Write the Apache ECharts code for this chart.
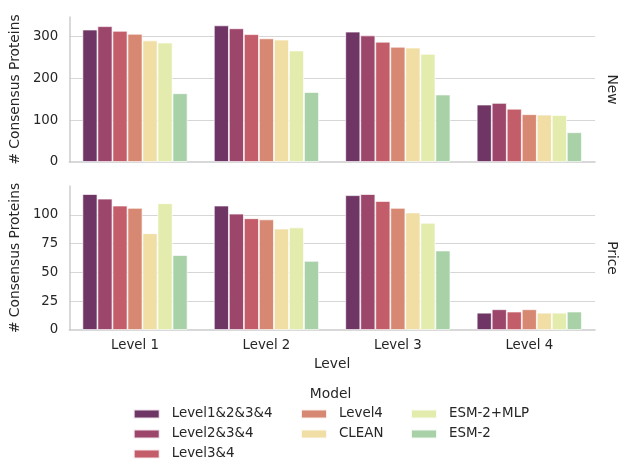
<!DOCTYPE html>
<html>
<head>
<meta charset="utf-8">
<script src="https://cdn.jsdelivr.net/npm/echarts@6/dist/echarts.min.js"></script>
<style>
  html, body { margin: 0; padding: 0; background: #fff; }
  #chart { width: 619px; height: 461px; }
</style>
</head>
<body>
<div id="chart"></div>
<script>
// Category axis and model names
const categories = ['Level 1', 'Level 2', 'Level 3', 'Level 4'];
const models = ['Level1&2&3&4', 'Level2&3&4', 'Level3&4', 'Level4', 'CLEAN', 'ESM-2+MLP', 'ESM-2'];
const modelColors = ['#6f3565', '#9c466b', '#c45d6a', '#d78873', '#f0dea4', '#e3ecad', '#a9d1a8'];

// "New" panel: consensus protein counts, one row per model, one column per level
const newCounts = [
  [316, 326, 311, 137],
  [324, 319, 302, 141],
  [313, 305, 287, 127],
  [306, 295, 275, 114],
  [290, 292, 273, 113],
  [285, 266, 258, 112],
  [164, 167, 161, 71]
];

// "Price" panel
const priceCounts = [
  [118, 108, 117, 15],
  [114, 101, 118, 18],
  [108, 97, 112, 16],
  [106, 96, 106, 18],
  [84, 88, 102, 15],
  [110, 89, 93, 15],
  [65, 60, 69, 16]
];

// Panel labels and y tick spacing
const panelNames = ['New', 'Price'];
const yIntervals = [100, 25];
const yMax = [346, 125];

const FONT = 'DejaVu Sans';
const TEXT = '#262626';
const GRID_LINE = '#d6d6d6';
const SPINE = '#cccccc';

const grids = [
  { left: 66.7, right: 24, top: 17, height: 145 },
  { left: 66.7, right: 24, top: 186, height: 144 }
];

const xAxes = grids.map((g, i) => ({
  type: 'category',
  gridIndex: i,
  data: categories,
  axisLine: { show: true, lineStyle: { color: SPINE, width: 1.5 } },
  axisTick: { show: false },
  axisLabel: {
    show: i === 1, color: TEXT, fontFamily: FONT, fontSize: 13.3, margin: 9
  },
  name: i === 1 ? 'Level' : '',
  nameLocation: 'middle',
  nameGap: 27,
  nameTextStyle: { color: TEXT, fontFamily: FONT, fontSize: 13.8 }
}));

const yAxes = grids.map((g, i) => ({
  type: 'value',
  gridIndex: i,
  min: 0,
  max: yMax[i],
  interval: yIntervals[i],
  axisLine: { show: true, lineStyle: { color: SPINE, width: 1.5 } },
  axisTick: { show: false },
  axisLabel: {
    color: TEXT, fontFamily: FONT, fontSize: 13.3, margin: 11, showMaxLabel: false
  },
  splitLine: {
    show: true, showMaxLine: false, showMinLine: false,
    lineStyle: { color: GRID_LINE, width: 1 }
  },
  name: '# Consensus Proteins',
  nameLocation: 'middle',
  nameGap: 38.5,
  nameTextStyle: { color: TEXT, fontFamily: FONT, fontSize: 13.8 }
}));

const panels = [newCounts, priceCounts];
const series = [];
panels.forEach((counts, p) => {
  models.forEach((m, k) => {
    series.push({
      type: 'bar',
      name: m,
      xAxisIndex: p,
      yAxisIndex: p,
      data: counts[k],
      barGap: '0%',
      barCategoryGap: '20%',
      itemStyle: {
        color: modelColors[k],
        borderColor: 'rgba(255,255,255,0.85)',
        borderWidth: 0.8
      },
      emphasis: { disabled: true }
    });
  });
});

// Legend split into three vertical columns
const legendColumns = [
  { left: 132.7, names: models.slice(0, 3) },
  { left: 300, names: models.slice(3, 5) },
  { left: 410, names: models.slice(5, 7) }
];
const legends = legendColumns.map(col => ({
  orient: 'vertical',
  left: col.left,
  top: 406.5,
  width: 200,
  height: 90,
  padding: 0,
  itemGap: 5,
  itemWidth: 26,
  itemHeight: 9,
  icon: 'rect',
  selectedMode: false,
  data: col.names,
  textStyle: {
    color: TEXT, fontFamily: FONT, fontSize: 13.4, lineHeight: 15,
    padding: [0, 0, 0, 7]
  }
}));

const graphics = [
  {
    type: 'text', x: 330.5, y: 394,
    style: {
      text: 'Model', fill: TEXT, font: '13.8px "DejaVu Sans"',
      align: 'center', verticalAlign: 'middle'
    }
  }
];
panelNames.forEach((name, i) => {
  const g = grids[i];
  graphics.push({
    type: 'text', x: 612, y: g.top + g.height / 2,
    rotation: -Math.PI / 2,
    style: {
      text: name, fill: TEXT, font: '13.8px "DejaVu Sans"',
      align: 'center', verticalAlign: 'middle'
    }
  });
});

const chart = echarts.init(document.getElementById('chart'), null, { renderer: 'canvas' });
chart.setOption({
  animation: false,
  backgroundColor: '#ffffff',
  grid: grids,
  xAxis: xAxes,
  yAxis: yAxes,
  legend: legends,
  graphic: graphics,
  series: series
});
</script>
</body>
</html>
